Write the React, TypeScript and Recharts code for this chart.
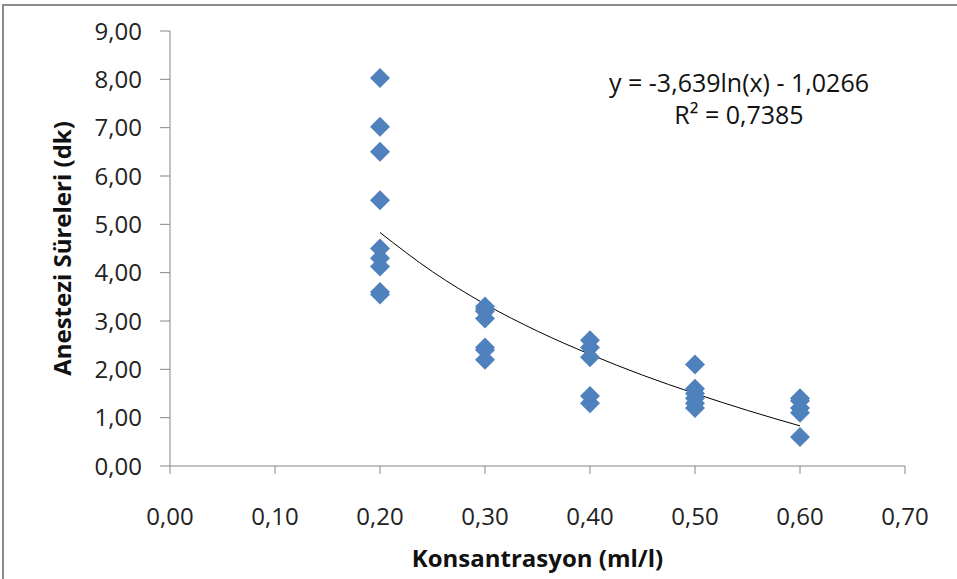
import React from "react";
import { ComposedChart, Scatter, Line, XAxis, YAxis } from "recharts";

const xTicks = [0, 0.1, 0.2, 0.3, 0.4, 0.5, 0.6, 0.7];
const yTicks = [0, 1, 2, 3, 4, 5, 6, 7, 8, 9];

const conc02 = [8.03, 7.02, 6.5, 5.5, 4.5, 4.3, 4.13, 3.6, 3.55];
const conc03 = [3.3, 3.25, 3.2, 3.05, 2.45, 2.4, 2.2];
const conc04 = [2.6, 2.45, 2.25, 1.45, 1.3];
const conc05 = [2.1, 1.6, 1.5, 1.4, 1.3, 1.2];
const conc06 = [1.4, 1.35, 1.2, 1.1, 0.6];

const trendX = [0.2, 0.25, 0.3, 0.35, 0.4, 0.45, 0.5, 0.55, 0.6];
const trendY = [4.83, 4.02, 3.35, 2.79, 2.31, 1.88, 1.5, 1.15, 0.83];

const groups: [number, number[]][] = [
  [0.2, conc02],
  [0.3, conc03],
  [0.4, conc04],
  [0.5, conc05],
  [0.6, conc06],
];
const points = groups.flatMap(([x, ys]) => ys.map((y) => ({ x, y })));
const trend = trendX.map((x, i) => ({ x, t: trendY[i] }));

const fmt = (v: number) => v.toFixed(2).replace(".", ",");
const FONT = "'Open Sans', sans-serif";

const Diamond = (props: any) => {
  const { cx, cy } = props;
  const r = 10;
  return (
    <polygon
      points={`${cx},${cy - r} ${cx + r},${cy} ${cx},${cy + r} ${cx - r},${cy}`}
      fill="#4F81BD"
    />
  );
};

export default function App() {
  return (
    <div style={{ position: "absolute", left: 0, top: 0, width: 957, height: 579, background: "#fff" }}>
      <div
        style={{
          position: "absolute",
          left: 2,
          top: 4,
          width: 1000,
          height: 1000,
          borderTop: "2px solid #8c8c8c",
          borderLeft: "2px solid #8c8c8c",
        }}
      />
      <ComposedChart
        width={957}
        height={579}
        margin={{ top: 31, right: 52, left: 0, bottom: 0 }}
        style={{ position: "absolute", left: 0, top: 0, fontFamily: FONT }}
      >
        <XAxis
          type="number"
          dataKey="x"
          domain={[0, 0.7]}
          ticks={xTicks}
          tickFormatter={fmt}
          height={113}
          stroke="#868686"
          tickSize={8}
          tickMargin={34}
          tick={{ fill: "#222", fontSize: 24, fontFamily: FONT }}
          label={{
            value: "Konsantrasyon (ml/l)",
            position: "insideBottom",
            offset: 12,
            style: { fontWeight: 700, fontSize: 24, fill: "#111", fontFamily: FONT },
          }}
          allowDuplicatedCategory={false}
        />
        <YAxis
          type="number"
          domain={[0, 9]}
          ticks={yTicks}
          tickFormatter={fmt}
          width={170}
          stroke="#868686"
          tickSize={10}
          tickMargin={18}
          tick={{ fill: "#222", fontSize: 24, fontFamily: FONT }}
          label={{
            value: "Anestezi Süreleri (dk)",
            angle: -90,
            position: "insideLeft",
            offset: 62,
            style: { fontWeight: 700, fontSize: 24, fill: "#111", fontFamily: FONT, textAnchor: "middle" },
          }}
        />
        <Scatter data={points} dataKey="y" shape={<Diamond />} isAnimationActive={false} />
        <Line
          data={trend}
          dataKey="t"
          type="monotone"
          stroke="#000"
          strokeWidth={1}
          dot={false}
          activeDot={false}
          isAnimationActive={false}
        />
        <text x={739} y={92} textAnchor="middle" fontSize={25} fontFamily={FONT} fill="#111">
          y = -3,639ln(x) - 1,0266
        </text>
        <text x={739} y={124} textAnchor="middle" fontSize={25} fontFamily={FONT} fill="#111">
          R² = 0,7385
        </text>
      </ComposedChart>
    </div>
  );
}
